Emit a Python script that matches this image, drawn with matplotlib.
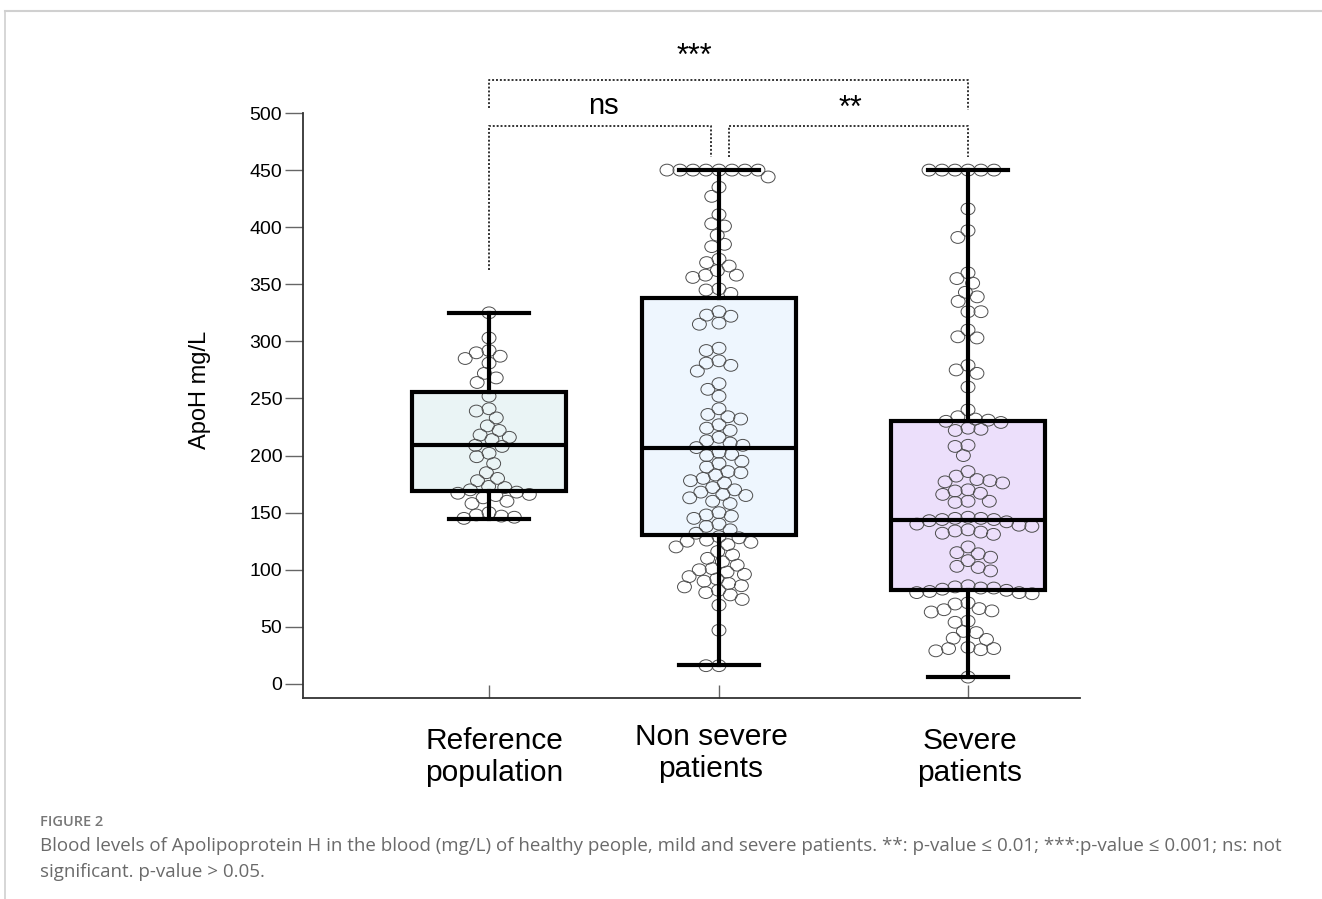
import numpy as np
import matplotlib
matplotlib.use("Agg")
import matplotlib.pyplot as plt
from matplotlib.path import Path
from matplotlib.transforms import Affine2D

# ---------------- data ----------------
categories = ["Reference\npopulation", "Non severe\npatients", "Severe\npatients"]
box_colors = ["#eaf4f5", "#eef6fe", "#ecdffb"]

ref_vals = [325, 303, 292, 290, 287, 285, 281, 272, 268, 264, 252, 241, 239, 233,
            226, 222, 218, 216, 214, 209, 208, 202, 199, 193, 185, 180, 178, 173,
            172, 170, 168, 167, 166, 165, 163, 160, 158, 150, 148, 147, 146, 145]

nonsev_vals = [450, 450, 450, 450, 450, 450, 450, 450, 444, 435, 427, 411, 403, 401,
               393, 385, 383, 372, 369, 366, 362, 358, 358, 356, 346, 345, 342, 326,
               323, 322, 316, 315, 294, 292, 283, 281, 279, 274, 263, 258, 252, 241,
               236, 234, 232, 227, 224, 222, 216, 213, 211, 209, 207, 203, 201, 200,
               195, 193, 190, 186, 185, 183, 180, 178, 176, 172, 170, 168, 166, 165,
               163, 160, 158, 150, 148, 147, 145, 140, 138, 135, 132, 129, 128, 126,
               125, 124, 122, 120, 116, 113, 110, 107, 104, 101, 100, 98, 96, 94, 92,
               90, 88, 86, 85, 82, 80, 78, 74, 69, 47, 16, 16]

severe_vals = [450, 450, 450, 450, 450, 450, 416, 397, 391, 360, 355, 351, 343, 339,
               335, 326, 326, 310, 304, 303, 279, 275, 272, 260, 240, 234, 232, 231,
               230, 229, 224, 222, 223, 209, 208, 200, 186, 182, 179, 178, 177, 176,
               170, 169, 167, 166, 160, 159, 160, 146, 145, 145, 144, 144, 143, 142,
               140, 139, 138, 133, 132, 131, 135, 134, 120, 115, 114, 111, 108, 103,
               102, 99, 86, 85, 84, 84, 83, 82, 81, 80, 80, 79, 71, 70, 66, 65, 64,
               63, 55, 54, 46, 45, 40, 39, 32, 31, 31, 30, 29, 6]

groups = [ref_vals, nonsev_vals, severe_vals]

# box statistics
q1 = [169, 130.5, 82]
med = [209, 206.5, 144]
q3 = [256, 338, 230]
whislo = [144.5, 17, 6]
whishi = [325, 450, 450]

yticks = [0, 50, 100, 150, 200, 250, 300, 350, 400, 450, 500]

# ---------------- layout ----------------
W, H = 1322, 899
fig = plt.figure(figsize=(W / 100, H / 100), dpi=100)
plt.rcParams['font.family'] = ['Liberation Sans', 'DejaVu Sans']

ax_l, ax_r, ax_b, ax_t = 303, 1080, 698, 113
ax = fig.add_axes([ax_l / W, 1 - ax_b / H, (ax_r - ax_l) / W, (ax_b - ax_t) / H])

positions = [1.0, 2.0, 3.083]
xlim = (0.191, 3.57)
ylim = (-12.3, 500)
ax.set_xlim(*xlim)
ax.set_ylim(*ylim)

xscale = (ax_r - ax_l) / (xlim[1] - xlim[0])   # px per x unit
yscale = (ax_b - ax_t) / (ylim[1] - ylim[0])   # px per y unit


def swarm_offsets(vals, w, h):
    vals = np.asarray(vals, float)
    ys = vals * yscale
    order = np.argsort(-vals, kind="stable")
    px, py = [], []
    offs = np.zeros(len(vals))
    for i in order:
        y = ys[i]
        cands = [0.0]
        for a, b in zip(px, py):
            dy = abs(y - b)
            if dy < h:
                dx = w * np.sqrt(1 - (dy / h) ** 2)
                cands += [a + dx, a - dx]
        cands.sort(key=lambda c: (abs(c), c))
        chosen = cands[-1]
        for c in cands:
            ok = True
            for a, b in zip(px, py):
                if ((c - a) / w) ** 2 + ((y - b) / h) ** 2 < 0.999:
                    ok = False
                    break
            if ok:
                chosen = c
                break
        offs[i] = chosen
        px.append(chosen)
        py.append(y)
    return offs / xscale


# boxes
stats = []
for i in range(3):
    stats.append(dict(med=med[i], q1=q1[i], q3=q3[i], whislo=whislo[i],
                      whishi=whishi[i], fliers=[], label=""))

box_w = 154 / xscale
cap_w = 80 / xscale

# fill layer
fill = ax.bxp(stats, positions=positions, widths=box_w, patch_artist=True,
              showcaps=False, showfliers=False,
              boxprops=dict(linewidth=0, edgecolor="none"),
              whiskerprops=dict(linewidth=0),
              medianprops=dict(linewidth=0), manage_ticks=False, zorder=1)
for p, c in zip(fill["boxes"], box_colors):
    p.set_facecolor(c)

# points
ell = Path.unit_circle().transformed(Affine2D().scale(1.0, 0.85))
for pos, vals in zip(positions, groups):
    offs = swarm_offsets(vals, 13.0, 11.0)
    ax.scatter(pos + offs, vals, marker=ell, s=10.0 ** 2, facecolors="none",
               edgecolors="#4d4d4d", linewidths=0.7, zorder=2, clip_on=False)

# line layer
lw = 3.0
ax.bxp(stats, positions=positions, widths=box_w, capwidths=cap_w,
       patch_artist=True, showfliers=False,
       boxprops=dict(linewidth=lw, edgecolor="black", facecolor="none"),
       whiskerprops=dict(linewidth=lw, color="black"),
       capprops=dict(linewidth=lw, color="black"),
       medianprops=dict(linewidth=lw, color="black"),
       manage_ticks=False, zorder=3)

# axes styling
for s in ["top", "right"]:
    ax.spines[s].set_visible(False)
for s in ["left", "bottom"]:
    ax.spines[s].set_linewidth(1.3)
    ax.spines[s].set_color("#333333")
ax.set_yticks(yticks)
ax.tick_params(axis="y", direction="out", length=13, width=1, color="#666666",
               labelsize=14, pad=2, labelcolor="black")
ax.set_xticks(positions)
ax.set_xticklabels([])
ax.tick_params(axis="x", direction="in", length=9.5, width=1, color="#666666")
ax.set_ylabel("ApoH mg/L", fontsize=17)
ax.yaxis.set_label_coords((211 - ax_l) / (ax_r - ax_l), (ax_b - 390) / (ax_b - ax_t))

# category labels
xt = ax.get_xaxis_transform()
label_dx = [5 / xscale, -8 / xscale, 2 / xscale]
label_y = [-(757 - ax_b) / (ax_b - ax_t), -(753 - ax_b) / (ax_b - ax_t), -(757 - ax_b) / (ax_b - ax_t)]
for pos, lab, dx, yy in zip(positions, categories, label_dx, label_y):
    ax.text(pos + dx, yy, lab, transform=xt, ha="center", va="center",
            multialignment="center", fontsize=21.5, linespacing=1.15)

# significance brackets
bk = dict(color="#333333", lw=1.4, linestyle=(0, (1, 1)), clip_on=False, zorder=4)
x_ns_r = positions[0] + (711 - 489) / xscale
x_ss_l = positions[0] + (729 - 489) / xscale
ax.plot([positions[0], positions[0], positions[2], positions[2]], [504, 529, 529, 503], **bk)
ax.plot([positions[0], positions[0], x_ns_r, x_ns_r], [362.5, 488.6, 488.6, 461.5], **bk)
ax.plot([x_ss_l, x_ss_l, positions[2], positions[2]], [461.5, 488.6, 488.6, 461.5], **bk)
ax.text(positions[0] + (694 - 489) / xscale, 542, "***", ha="center", va="baseline",
        fontsize=22, clip_on=False)
ax.text(positions[0] + (603 - 489) / xscale, 499.5, "ns", ha="center", va="baseline",
        fontsize=21, clip_on=False)
ax.text(positions[0] + (850 - 489) / xscale, 496.5, "**", ha="center", va="baseline",
        fontsize=22, clip_on=False)

# page frame lines
fig.add_artist(plt.Line2D([5 / W, 1], [1 - 11 / H, 1 - 11 / H], color="#d0d0d0", lw=1.5,
                          transform=fig.transFigure))
fig.add_artist(plt.Line2D([5 / W, 5 / W], [0, 1 - 11 / H], color="#d0d0d0", lw=1.2,
                          transform=fig.transFigure))

# caption
cap_font = ["Open Sans", "DejaVu Sans"]
fig.text(40 / W, 1 - 822 / H, "FIGURE 2", fontsize=10.5, color="#777777",
         family=cap_font, fontweight="semibold", va="center", ha="left")
fig.text(40 / W, 1 - 846 / H,
         "Blood levels of Apolipoprotein H in the blood (mg/L) of healthy people, mild and severe patients. "
         "**: p-value \u2264 0.01; ***:p-value \u2264 0.001; ns: not",
         fontsize=13.5, color="#6a6a6a", family=cap_font, va="center", ha="left")
fig.text(40 / W, 1 - 872 / H, "significant. p-value > 0.05.",
         fontsize=13.5, color="#6a6a6a", family=cap_font, va="center", ha="left")

fig.savefig("out.png", dpi=100)
